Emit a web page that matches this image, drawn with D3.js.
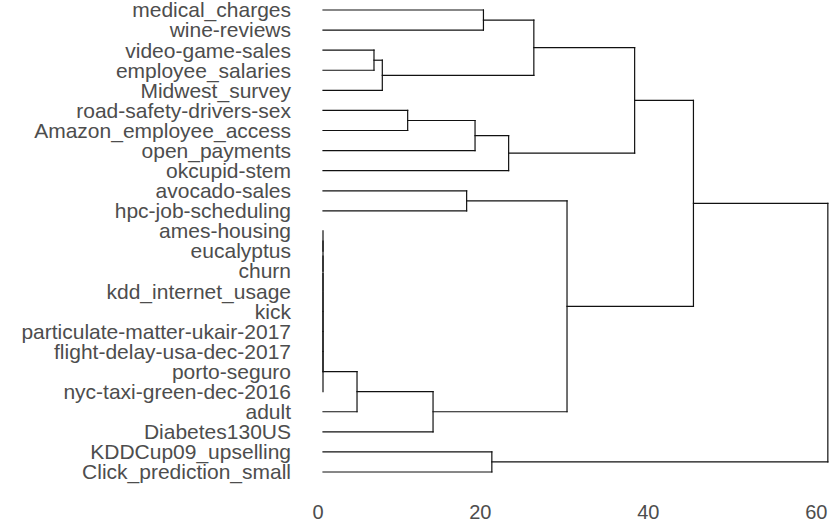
<!DOCTYPE html>
<html>
<head>
<meta charset="utf-8">
<script src="https://cdn.jsdelivr.net/npm/d3@7"></script>
<style>
  body { margin: 0; background: #fff; }
  svg text { font-family: "Liberation Sans", Arial, Helvetica, sans-serif; }
</style>
</head>
<body>
<svg id="chart" width="830" height="521"></svg>
<script>
const svg = d3.select("#chart"),
      width = +svg.attr("width"),
      height = +svg.attr("height");

// leaves in display order, top to bottom
const leaves = [
    "medical_charges", "wine-reviews", "video-game-sales", "employee_salaries",
    "Midwest_survey", "road-safety-drivers-sex", "Amazon_employee_access",
    "open_payments", "okcupid-stem", "avocado-sales", "hpc-job-scheduling",
    "ames-housing", "eucalyptus", "churn", "kdd_internet_usage", "kick",
    "particulate-matter-ukair-2017", "flight-delay-usa-dec-2017", "porto-seguro",
    "nyc-taxi-green-dec-2016", "adult", "Diabetes130US", "KDDCup09_upselling",
    "Click_prediction_small"
];

// hclust style merges: negative = leaf (1-based), positive = earlier merge step
const merges = [
    [-12, -13], [1, -14], [2, -15], [3, -16], [4, -17], [5, -18], [6, -19], [7, -20],
    [-3, -4], [9, -5], [8, -21], [-6, -7], [11, -22], [-10, -11], [12, -8],
    [-1, -2], [-23, -24], [15, -9], [16, 10], [14, 13], [19, 18], [21, 20], [22, 17]
];
const heights = [
    0, 0, 0, 0, 0, 0, 0, 0,
    6.07, 7.06, 4.05, 10.08, 13.1, 17.1, 18.1,
    19.1, 20.1, 22.1, 25.1, 29.05, 37.1, 44.1, 60.1
];

const tickValues = [0, 20, 40, 60];

const x = d3.scaleLinear().domain([0, 60]).range([323, 827]);
const y = d3.scalePoint().domain(leaves).range([10, 472]);

// position of a leaf or merge node: {pos, h}
const nodes = [];
function nodeOf(id) {
    if (id < 0) return {pos: y(leaves[-id - 1]), h: 0};
    return nodes[id - 1];
}

const segs = [];
merges.forEach((m, i) => {
    const a = nodeOf(m[0]), b = nodeOf(m[1]), h = heights[i];
    segs.push({x1: a.h, y1: a.pos, x2: h, y2: a.pos});
    segs.push({x1: b.h, y1: b.pos, x2: h, y2: b.pos});
    segs.push({x1: h, y1: a.pos, x2: h, y2: b.pos});
    nodes.push({pos: (a.pos + b.pos) / 2, h: h});
});

svg.append("g")
    .selectAll("line")
    .data(segs.filter(s => !(s.x1 === s.x2 && s.y1 === s.y2)))
    .join("line")
    .attr("x1", d => x(d.x1))
    .attr("y1", d => d.y1)
    .attr("x2", d => x(d.x2))
    .attr("y2", d => d.y2)
    .attr("stroke", "#111")
    .attr("stroke-width", 1.2)
    .attr("stroke-linecap", "square");

// leaf labels
svg.append("g")
    .selectAll("text")
    .data(leaves)
    .join("text")
    .attr("x", x(0) - 32)
    .attr("y", d => y(d))
    .attr("dy", "0.35em")
    .attr("text-anchor", "end")
    .attr("fill", "#4d4d4d")
    .attr("font-size", 21)
    .text(d => d);

// bottom axis, labels only
const xAxis = d3.axisBottom(x).tickValues(tickValues).tickSize(0).tickPadding(3);
const gx = svg.append("g")
    .attr("transform", "translate(0,502)")
    .call(xAxis);
gx.select(".domain").remove();
gx.selectAll("text")
    .attr("text-anchor", "end")
    .attr("fill", "#4d4d4d")
    .attr("font-size", 20)
    .attr("font-family", "Liberation Sans, Arial, sans-serif");
</script>
</body>
</html>
